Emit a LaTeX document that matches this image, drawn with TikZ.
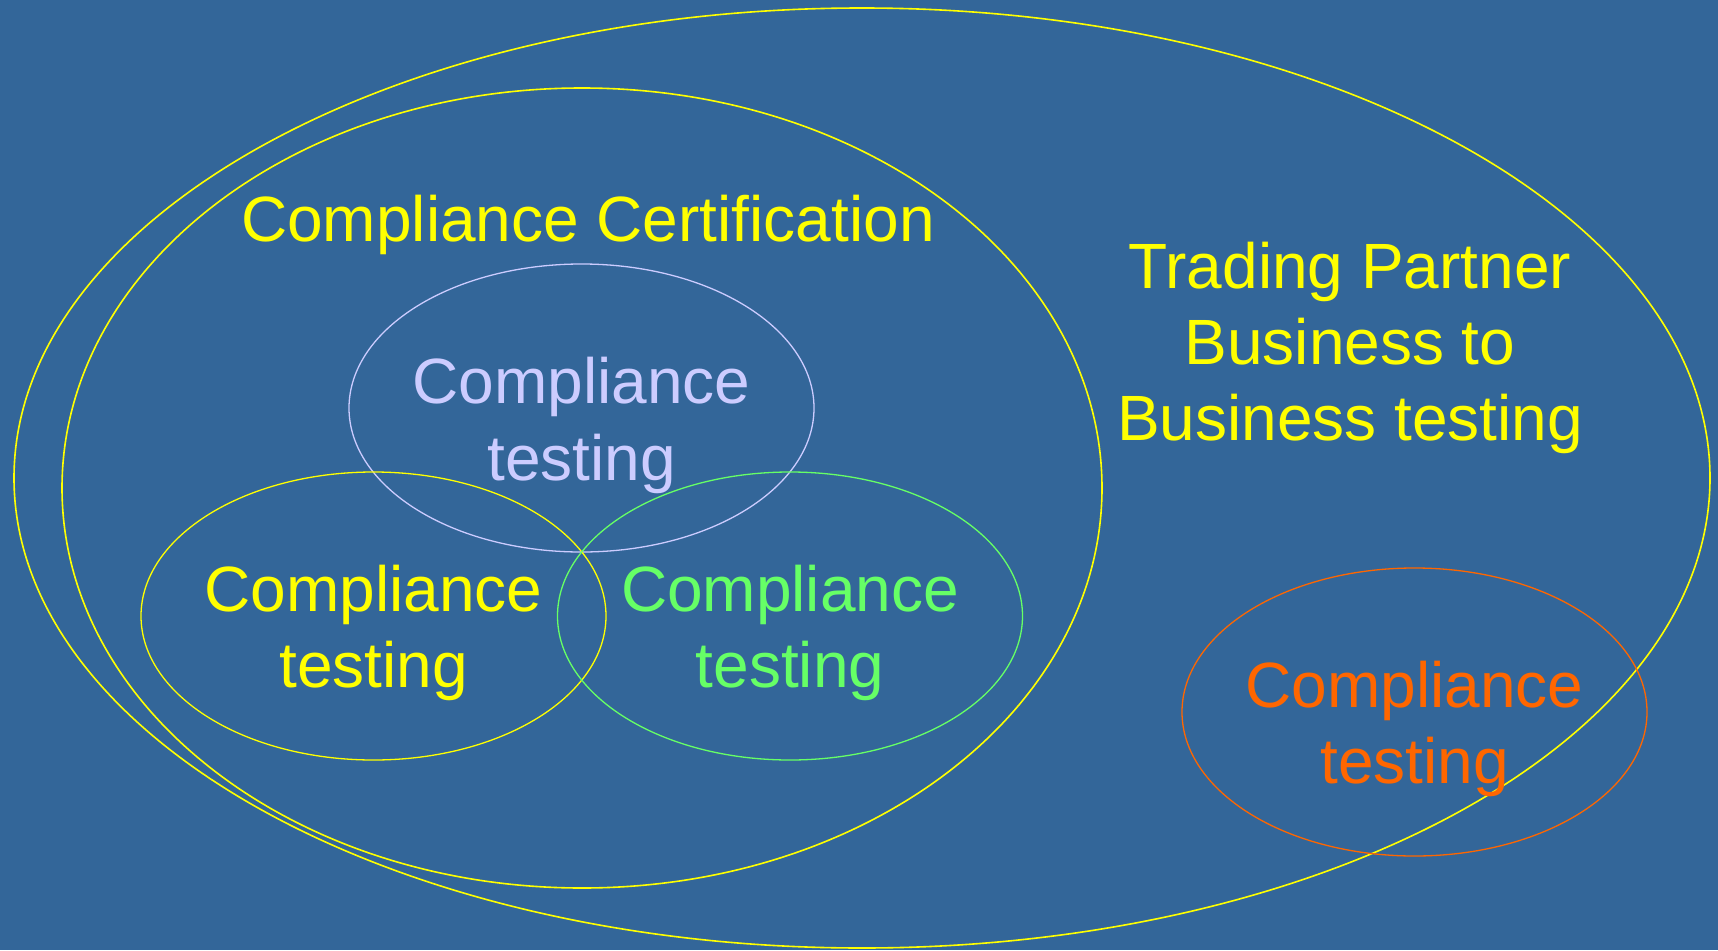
\documentclass[tikz,border=0pt]{standalone}
\usepackage{fontspec}
\setmainfont{Liberation Sans}
\usetikzlibrary{shapes.geometric}
\definecolor{bgblue}{HTML}{336699}
\definecolor{ringyellow}{HTML}{FFFF00}
\definecolor{lavender}{HTML}{CCCCFF}
\definecolor{lightgreen}{HTML}{66FF66}
\definecolor{testorange}{HTML}{FF6600}
\begin{document}
\begin{tikzpicture}[x=1pt,y=-1pt,
  ring/.style={ellipse, draw, inner sep=0pt, outer sep=0pt},
  bigring/.style={ring, line width=1.6pt},
  smallring/.style={ring, line width=1.3pt, minimum width=465pt, minimum height=288pt},
  label/.style={font=\fontsize{64pt}{76pt}\selectfont, inner sep=0pt, align=center},
]
% page and background
\fill[bgblue] (0,0) rectangle (1718,950);
\useasboundingbox (0,0) rectangle (1718,950);

% enclosing rings
\node[bigring, draw=ringyellow, minimum width=1696pt, minimum height=940pt] (partner) at (862,478) {};
\node[bigring, draw=ringyellow, minimum width=1040pt, minimum height=800pt] (certification) at (582,488) {};

% testing rings
\node[smallring, draw=lavender]   (testtop)    at (581.5,408) {};
\node[smallring, draw=ringyellow] (testleft)   at (373.5,616) {};
\node[smallring, draw=lightgreen] (testright)  at (790,616) {};
\node[smallring, draw=testorange] (testpartner) at (1414.5,712) {};

% labels
\node[label, text=ringyellow, anchor=base] (certlabel) at (588,241) {Compliance Certification};
\node[label, text=ringyellow, anchor=base] (partnerA) at (1350,288) {Trading Partner};
\node[label, text=ringyellow, anchor=base] (partnerB) at (1350,364) {Business to};
\node[label, text=ringyellow, anchor=base] (partnerC) at (1350,440) {Business testing};

\node[label, text=lavender,   anchor=base] (toplabelA)   at (581.5,403) {Compliance};
\node[label, text=lavender,   anchor=base] (toplabelB)   at (581.5,480) {testing};
\node[label, text=ringyellow, anchor=base] (leftlabelA)  at (373.5,611) {Compliance};
\node[label, text=ringyellow, anchor=base] (leftlabelB)  at (373.5,687) {testing};
\node[label, text=lightgreen, anchor=base] (rightlabelA) at (790,611) {Compliance};
\node[label, text=lightgreen, anchor=base] (rightlabelB) at (790,687) {testing};
\node[label, text=testorange, anchor=base] (orangelabelA) at (1414.5,707) {Compliance};
\node[label, text=testorange, anchor=base] (orangelabelB) at (1414.5,783) {testing};
\end{tikzpicture}
\end{document}
